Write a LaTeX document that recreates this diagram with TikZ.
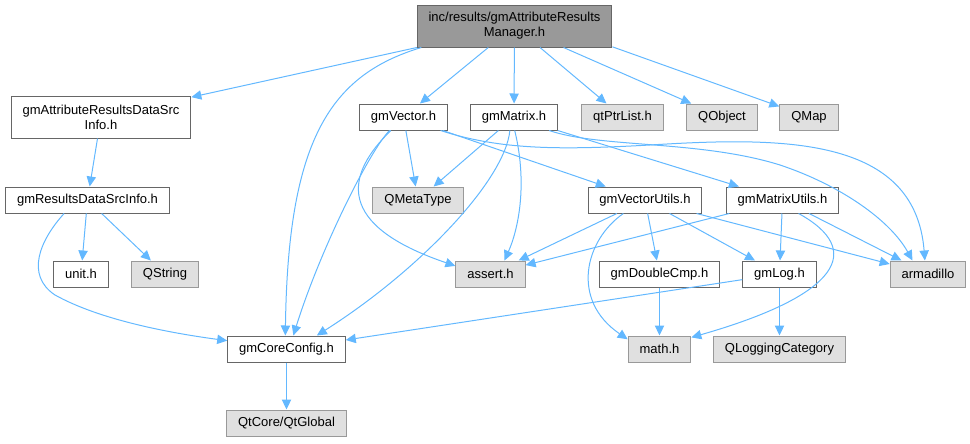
\documentclass[tikz,border=0pt]{standalone}
\usepackage{fontspec}
\setmainfont{Liberation Sans}
\usetikzlibrary{arrows.meta}

\definecolor{edgeblue}{HTML}{63B8FF}
\definecolor{rootgray}{HTML}{999999}
\definecolor{extgray}{HTML}{E0E0E0}

\begin{document}
\begin{tikzpicture}[x=0.75pt,y=-0.75pt,
  filebox/.style={draw=black!60, fill=white, line width=0.75pt,
    inner xsep=8.6pt, inner ysep=0pt, minimum height=19.5pt,
    font=\fontsize{9.75}{11.25}\selectfont, align=center},
  extbox/.style={filebox, draw=black!40, fill=extgray},
  rootbox/.style={filebox, fill=rootgray, minimum height=31.5pt},
  dep/.style={draw=edgeblue, line width=0.75pt,
    -{Triangle[length=7.5pt,width=7pt]}}]

  \useasboundingbox (0,0) rectangle (970,443);

  % files
  \node[rootbox] (root) at (514.5,26) {inc/results/gmAttributeResults\\Manager.h};
  \node[filebox, minimum height=31.5pt] (attr) at (101,117) {gmAttributeResultsDataSrc\\Info.h};
  \node[filebox] (results) at (87.5,200) {gmResultsDataSrcInfo.h};
  \node[filebox] (unit) at (81,274) {unit.h};
  \node[extbox] (qstring) at (165,274) {QString};
  \node[filebox] (core) at (286.5,349) {gmCoreConfig.h};
  \node[extbox] (qtglobal) at (286.5,423) {QtCore/QtGlobal};
  \node[filebox] (vector) at (403.5,117) {gmVector.h};
  \node[extbox] (metatype) at (418,200) {QMetaType};
  \node[filebox] (matrix) at (514,117) {gmMatrix.h};
  \node[extbox] (ptrlist) at (622.5,117) {qtPtrList.h};
  \node[extbox] (qobject) at (722,117) {QObject};
  \node[extbox] (qmap) at (809,117) {QMap};
  \node[filebox] (vutils) at (645,200) {gmVectorUtils.h};
  \node[filebox] (mutils) at (782.5,200) {gmMatrixUtils.h};
  \node[extbox] (assert) at (490.5,274) {assert.h};
  \node[filebox] (dcmp) at (659.5,274) {gmDoubleCmp.h};
  \node[filebox] (log) at (779.5,274) {gmLog.h};
  \node[extbox] (arma) at (928,274) {armadillo};
  \node[extbox] (math) at (659.5,349) {math.h};
  \node[extbox] (qlog) at (779.5,349) {QLoggingCategory};

  % includes of the root
  \draw[dep] (root) -- (attr);
  \draw[dep] (root.-167) .. controls (330,75) and (288,140) .. (core.95);
  \draw[dep] (root) -- (vector);
  \draw[dep] (root) -- (matrix);
  \draw[dep] (root) -- (ptrlist);
  \draw[dep] (root) -- (qobject);
  \draw[dep] (root.-12.4) -- (qmap);

  \draw[dep] (attr) -- (results);
  \draw[dep] (results) -- (unit);
  \draw[dep] (results) -- (qstring);
  \draw[dep] (results.-150) .. controls (40,240) and (25,275) .. (55,295)
    .. controls (100,320) and (170,333) .. (core.172);

  % gmVector.h
  \draw[dep] (vector) -- (metatype);
  \draw[dep] (vector.-136) .. controls (370,150) and (320,250) .. (core.63);
  \draw[dep] (vector.-133) .. controls (345,175) and (335,225) .. (assert.167);
  \draw[dep] (vector) -- (vutils);
  \draw[dep] (vector.-20) .. controls (500,150) and (560,150) .. (650,145)
    .. controls (780,137) and (915,135) .. (arma.103);

  % gmMatrix.h
  \draw[dep] (matrix) -- (metatype);
  \draw[dep] (matrix.-107) .. controls (505,180) and (420,270) .. (core.24);
  \draw[dep] (matrix.-87) .. controls (528,185) and (518,230) .. (assert.44);
  \draw[dep] (matrix) -- (mutils);
  \draw[dep] (matrix.-21) .. controls (600,148) and (700,140) .. (780,165)
    .. controls (840,185) and (890,220) .. (arma.139);

  % utils
  \draw[dep] (vutils) -- (assert);
  \draw[dep] (vutils.-148) .. controls (585,240) and (570,300) .. (math.163);
  \draw[dep] (vutils) -- (dcmp);
  \draw[dep] (vutils) -- (log);
  \draw[dep] (vutils) -- (arma);
  \draw[dep] (mutils) -- (assert);
  \draw[dep] (mutils) -- (log);
  \draw[dep] (mutils) -- (arma);
  \draw[dep] (mutils.-40) .. controls (865,250) and (840,295) .. (math.20);

  \draw[dep] (log) -- (core);
  \draw[dep] (log) -- (qlog);
  \draw[dep] (dcmp) -- (math);
  \draw[dep] (core) -- (qtglobal);

\end{tikzpicture}
\end{document}
